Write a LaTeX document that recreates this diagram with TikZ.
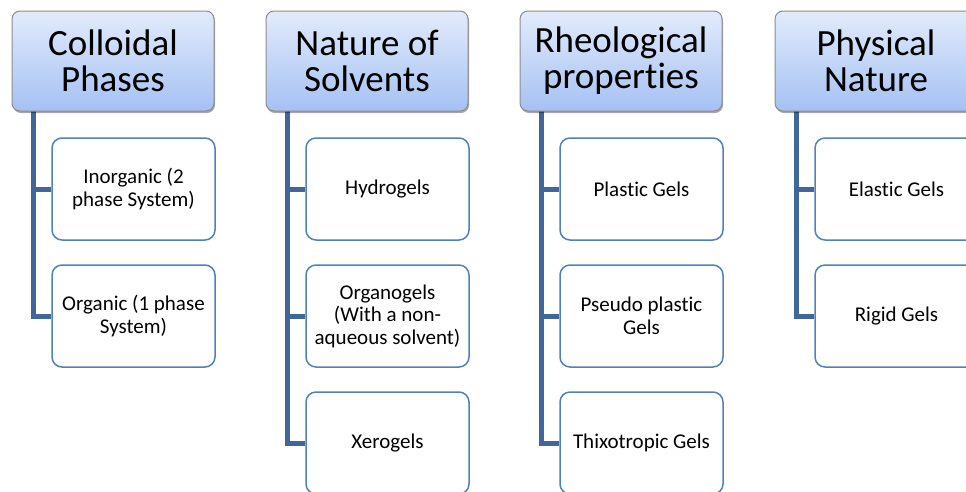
\documentclass[tikz,border=0pt]{standalone}
\usepackage{fontspec}
\setmainfont[Ligatures={NoCommon}]{Carlito}
\usetikzlibrary{shadows}
\definecolor{linecol}{HTML}{41679A}
\definecolor{boxcol}{HTML}{4F81BD}
\definecolor{htop}{HTML}{E2EBFB}
\definecolor{hbot}{HTML}{A5C1F3}
\tikzset{
  head/.style={draw=gray!90, line width=1pt, rounded corners=8pt,
    top color=htop, bottom color=hbot, minimum width=202pt, minimum height=100pt,
    inner sep=0pt, align=center, font=\fontsize{37}{36}\selectfont,
    drop shadow={shadow xshift=1pt, shadow yshift=-2pt, opacity=0.35, fill=black}},
  leaf/.style={draw=boxcol, line width=1.5pt, rounded corners=10pt, fill=white,
    minimum width=163pt, minimum height=102pt, inner sep=0pt, align=center,
    font=\fontsize{21}{22.5}\selectfont},
  conn/.style={draw=linecol, line width=5pt, line join=miter},
}
\begin{document}
\begin{tikzpicture}[x=1pt,y=-1pt]
\useasboundingbox (0,0) rectangle (966,491);
\clip (0,0) rectangle (966,491);
% coordinates for trunks
\coordinate (t1) at (33,105);
\coordinate (t2) at (287,105);
\coordinate (t3) at (541,105);
\coordinate (t4) at (796,105);
% leaves
\node[leaf] (c1a) at (133.5,189) {Inorganic (2\\phase System)};
\node[leaf] (c1b) at (133.5,316) {Organic (1 phase\\System)};
\node[leaf] (c2a) at (387.5,189) {Hydrogels};
\node[leaf] (c2b) at (387.5,316) {Organogels\\(With a non-\\aqueous solvent)};
\node[leaf] (c2c) at (387.5,443) {Xerogels};
\node[leaf] (c3a) at (641.5,189) {Plastic Gels};
\node[leaf] (c3b) at (641.5,316) {Pseudo plastic\\Gels};
\node[leaf] (c3c) at (641.5,443) {Thixotropic Gels};
\node[leaf] (c4a) at (896.5,189) {Elastic Gels};
\node[leaf] (c4b) at (896.5,316) {Rigid Gels};
% connectors
\draw[conn] (t1) |- (c1b.west);
\draw[conn] (t1 |- c1a.west) -- (c1a.west);
\draw[conn] (t2) |- (c2c.west);
\draw[conn] (t2 |- c2a.west) -- (c2a.west);
\draw[conn] (t2 |- c2b.west) -- (c2b.west);
\draw[conn] (t3) |- (c3c.west);
\draw[conn] (t3 |- c3a.west) -- (c3a.west);
\draw[conn] (t3 |- c3b.west) -- (c3b.west);
\draw[conn] (t4) |- (c4b.west);
\draw[conn] (t4 |- c4a.west) -- (c4a.west);
% headers
\node[head] (h1) at (113,61) {Colloidal\\Phases};
\node[head] (h2) at (367,61) {Nature of\\Solvents};
\node[head] (h3) at (621,61) {Rheological\\properties};
\node[head] (h4) at (876,61) {Physical\\Nature};
\end{tikzpicture}
\end{document}
